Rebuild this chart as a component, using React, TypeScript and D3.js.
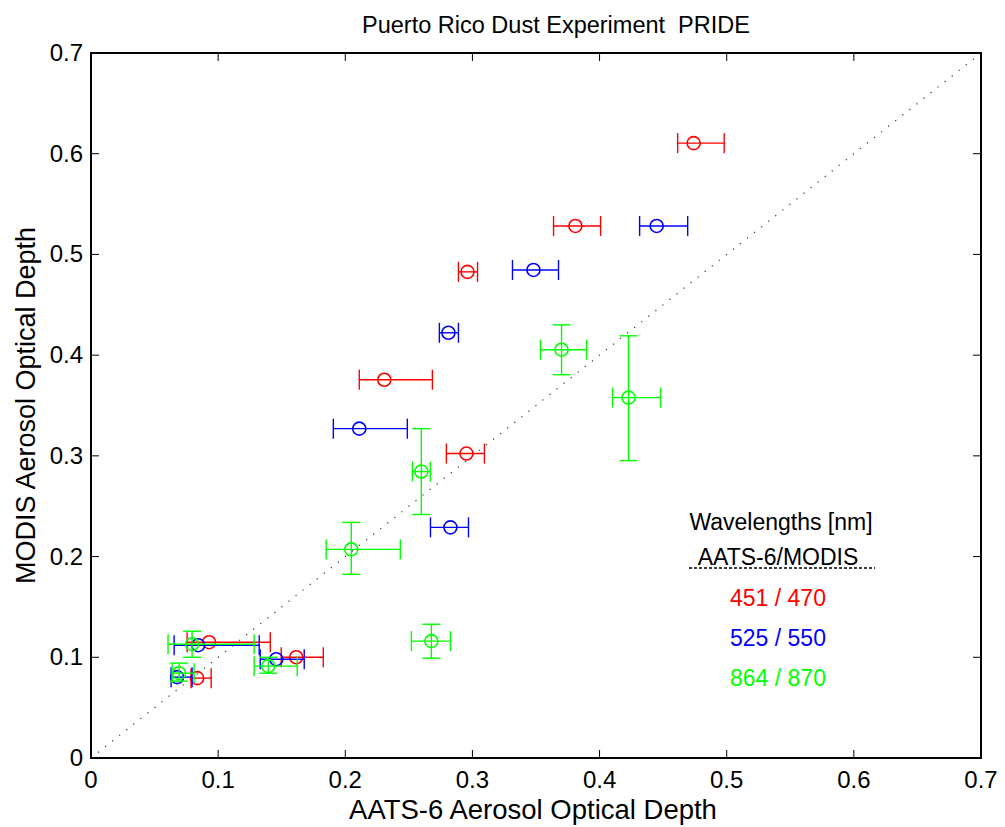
import React from "react";
import * as d3 from "d3";

// ---- data ----
const redX = [0.474, 0.381, 0.2961, 0.2307, 0.2953, 0.0929, 0.1614, 0.0835];
const redY = [0.6105, 0.5283, 0.4827, 0.3756, 0.3023, 0.115, 0.1, 0.0793];
const redXLo = [0.4614, 0.3638, 0.289, 0.211, 0.2795, 0.0756, 0.1496, 0.0787];
const redXHi = [0.498, 0.4008, 0.304, 0.2685, 0.3094, 0.141, 0.1827, 0.0945];

const blueX = [0.4449, 0.348, 0.2811, 0.211, 0.2827, 0.0843, 0.1457, 0.0677];
const blueY = [0.5283, 0.4846, 0.4222, 0.327, 0.229, 0.112, 0.0981, 0.0803];
const blueXLo = [0.4315, 0.3315, 0.274, 0.1906, 0.267, 0.0654, 0.1331, 0.063];
const blueXHi = [0.4693, 0.3677, 0.289, 0.2488, 0.2969, 0.1323, 0.1677, 0.0795];

const greenX = [0.3701, 0.4228, 0.2598, 0.2047, 0.2677, 0.0795, 0.1394, 0.0693];
const greenY = [0.4054, 0.3578, 0.2844, 0.2071, 0.116, 0.113, 0.0912, 0.0842];
const greenXLo = [0.3535, 0.4102, 0.2528, 0.185, 0.252, 0.0606, 0.1283, 0.0638];
const greenXHi = [0.3898, 0.448, 0.2669, 0.2433, 0.2827, 0.1283, 0.1622, 0.0811];
const greenYLo = [0.3806, 0.2953, 0.2418, 0.1824, 0.0991, 0.1, 0.0842, 0.0763];
const greenYHi = [0.4301, 0.4192, 0.327, 0.2339, 0.1328, 0.1259, 0.1, 0.0942];

const xTicks = [0, 0.1, 0.2, 0.3, 0.4, 0.5, 0.6, 0.7];
const yTicks = [0, 0.1, 0.2, 0.3, 0.4, 0.5, 0.6, 0.7];
const tickLabels = ["0", "0.1", "0.2", "0.3", "0.4", "0.5", "0.6", "0.7"];

const legendTitle = "Wavelengths [nm]";
const legendSub = "AATS-6/MODIS";
const legendItems = ["451 / 470", "525 / 550", "864 / 870"];

const RED = "#ff0000";
const BLUE = "#0000ff";
const GREEN = "#00ff00";
const legendColors = [RED, BLUE, GREEN];

const W = 1005;
const H = 827;
const L = 91, R = 981, T = 53, B = 758;
const FONT = "'Liberation Sans', Arial, Helvetica, sans-serif";

export default function App() {
  const x = d3.scaleLinear().domain([0, 0.7]).range([L, R]);
  const y = d3.scaleLinear().domain([0, 0.7]).range([B, T]);
  const cap = 10;
  const vcap = 9;
  const r = 6.5;
  const sw = 1.4;

  const hBars = (xs: number[], ys: number[], lo: number[], hi: number[], color: string, key: string) =>
    xs.map((_, i) => (
      <g key={key + i} stroke={color} strokeWidth={sw} fill="none">
        <line x1={x(lo[i])} x2={x(hi[i])} y1={y(ys[i])} y2={y(ys[i])} />
        <line x1={x(lo[i])} x2={x(lo[i])} y1={y(ys[i]) - cap} y2={y(ys[i]) + cap} />
        <line x1={x(hi[i])} x2={x(hi[i])} y1={y(ys[i]) - cap} y2={y(ys[i]) + cap} />
      </g>
    ));

  const vBars = (xs: number[], lo: number[], hi: number[], color: string, key: string) =>
    xs.map((_, i) => (
      <g key={key + i} stroke={color} strokeWidth={sw} fill="none">
        <line x1={x(xs[i])} x2={x(xs[i])} y1={y(lo[i])} y2={y(hi[i])} />
        <line x1={x(xs[i]) - vcap} x2={x(xs[i]) + vcap} y1={y(lo[i])} y2={y(lo[i])} />
        <line x1={x(xs[i]) - vcap} x2={x(xs[i]) + vcap} y1={y(hi[i])} y2={y(hi[i])} />
      </g>
    ));

  const circles = (xs: number[], ys: number[], color: string, key: string) =>
    xs.map((_, i) => (
      <circle key={key + i} cx={x(xs[i])} cy={y(ys[i])} r={r} fill="none" stroke={color} strokeWidth={1.6} />
    ));

  const legX = 781;
  const legY = [522, 557, 598, 638, 678];

  return (
    <div style={{ position: "absolute", left: 0, top: 0, width: W, height: H, background: "#fff" }}>
      <svg width={W} height={H} style={{ display: "block", fontFamily: FONT }}>
        <rect x={0} y={0} width={W} height={H} fill="#fff" />
        {/* diagonal 1:1 line */}
        <line x1={x(0)} y1={y(0)} x2={x(0.7)} y2={y(0.7)} stroke="#333" strokeWidth={1.2} strokeDasharray="1.2,7.8" />

        {hBars(redX, redY, redXLo, redXHi, RED, "rh")}
        {circles(redX, redY, RED, "rc")}
        {hBars(blueX, blueY, blueXLo, blueXHi, BLUE, "bh")}
        {circles(blueX, blueY, BLUE, "bc")}
        {hBars(greenX, greenY, greenXLo, greenXHi, GREEN, "gh")}
        {vBars(greenX, greenYLo, greenYHi, GREEN, "gv")}
        {circles(greenX, greenY, GREEN, "gc")}

        {/* axes box */}
        <rect x={L} y={T} width={R - L} height={B - T} fill="none" stroke="#000" strokeWidth={2} />
        {xTicks.slice(1, -1).map((t) => (
          <g key={"xt" + t} stroke="#000" strokeWidth={1}>
            <line x1={x(t)} x2={x(t)} y1={B} y2={B - 8} />
            <line x1={x(t)} x2={x(t)} y1={T} y2={T + 8} />
          </g>
        ))}
        {yTicks.slice(1, -1).map((t) => (
          <g key={"yt" + t} stroke="#000" strokeWidth={1}>
            <line x1={L} x2={L + 8} y1={y(t)} y2={y(t)} />
            <line x1={R} x2={R - 8} y1={y(t)} y2={y(t)} />
          </g>
        ))}
        {xTicks.map((t, i) => (
          <text key={"xl" + t} x={x(t)} y={B + 30} fontSize={24} textAnchor="middle" fill="#000">
            {tickLabels[i]}
          </text>
        ))}
        {yTicks.map((t, i) => (
          <text key={"yl" + t} x={L - 8} y={y(t) + 8} fontSize={24} textAnchor="end" fill="#000">
            {tickLabels[i]}
          </text>
        ))}

        {/* titles */}
        <text x={556} y={33} fontSize={23.5} textAnchor="middle" fill="#000" style={{ whiteSpace: "pre" }}>
          {"Puerto Rico Dust Experiment  PRIDE"}
        </text>
        <text x={533} y={819} fontSize={27.5} textAnchor="middle" fill="#000">
          AATS-6 Aerosol Optical Depth
        </text>
        <text transform={`translate(35, ${(T + B) / 2}) rotate(-90)`} fontSize={27} textAnchor="middle" fill="#000">
          MODIS Aerosol Optical Depth
        </text>

        {/* legend text */}
        <text x={legX} y={legY[0] + 8} fontSize={23} textAnchor="middle" fill="#000">{legendTitle}</text>
        <text x={legX - 3} y={legY[1] + 8} fontSize={23} textAnchor="middle" fill="#000">{legendSub}</text>
        <line x1={689} x2={875} y1={568} y2={568} stroke="#000" strokeWidth={1.3} strokeDasharray="3,2" />
        {legendItems.map((s, i) => (
          <text key={s} x={legX - 3} y={legY[i + 2] + 8} fontSize={23} textAnchor="middle" fill={legendColors[i]}>
            {s}
          </text>
        ))}
      </svg>
    </div>
  );
}
